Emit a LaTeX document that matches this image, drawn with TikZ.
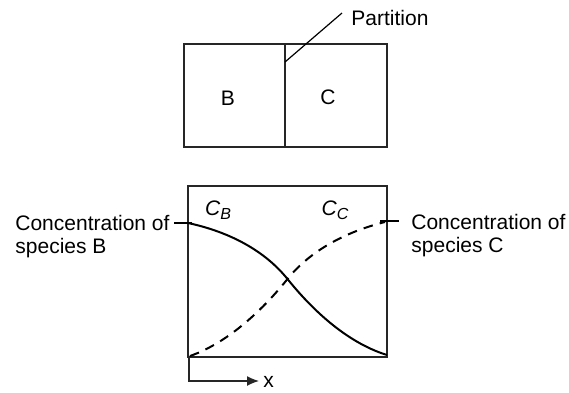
\documentclass[tikz,border=0pt]{standalone}
\usepackage{fontspec}
\setmainfont{Liberation Sans}
\usetikzlibrary{arrows.meta}
\begin{document}
\begin{tikzpicture}[x=0.5pt,y=-0.5pt,
  boxline/.style={line width=0.65pt,black!85},
  curveB/.style={line width=1pt,black},
  curveC/.style={line width=1pt,black,dash pattern=on 4.8pt off 3.6pt},
  lbl/.style={font=\fontsize{10.5}{11.5}\selectfont,inner sep=0pt},
  leader/.style={line width=0.6pt,black}]
\useasboundingbox (0,0) rectangle (569,392);
% top box
\coordinate (tTL) at (184,44);
\coordinate (tBR) at (387,147);
\coordinate (pTop) at (285,44);
\coordinate (pBot) at (285,147);
\draw[boxline] (tTL) rectangle (tBR);
\draw[boxline] (pTop) -- (pBot);
\node[lbl] (B) at (228,98) {B};
\node[lbl] (C) at (328,97) {C};
\coordinate (pLead) at (285,62);
\coordinate (pLeadEnd) at (342,13);
\node[lbl,anchor=base west] (part) at (351,25) {Partition};
\draw[leader] (pLead) -- (pLeadEnd);
% bottom box
\coordinate (bTL) at (188,186);
\coordinate (bBR) at (387,357);
\draw[boxline] (bTL) rectangle (bBR);
% curves
\coordinate (cbS) at (188,223);
\coordinate (cross) at (287.5,279);
\coordinate (cbE) at (387,355);
\coordinate (ccS) at (190,356);
\coordinate (ccE) at (385,222);
\draw[curveB] (cbS) .. controls (230,232) and (265,251) .. (cross)
  .. controls (310,307) and (345,342) .. (cbE);
\draw[curveC] (ccS) .. controls (230,342) and (265,307) .. (cross)
  .. controls (310,251) and (345,232) .. (ccE);
% labels of curves
\node[lbl] (cbl) at (218,210) {\textit{C}\raisebox{-0.35ex}{\fontsize{8}{9}\selectfont\textit{B}}};
\node[lbl] (ccl) at (335,210) {\textit{C}\raisebox{-0.35ex}{\fontsize{8}{9}\selectfont\textit{C}}};
% side labels
\node[lbl,anchor=base west] (lt1) at (15,230) {Concentration of};
\node[lbl,anchor=base west] (lt2) at (15,253) {species B};
\node[lbl,anchor=base west] (rt1) at (411,229) {Concentration of};
\node[lbl,anchor=base west] (rt2) at (411,252) {species C};
\coordinate (lL1) at (174,223);
\coordinate (lL2) at (192,223);
\draw[leader] (lL1) -- (lL2);
\coordinate (rL1) at (380,221);
\coordinate (rL2) at (399,221);
\draw[leader] (rL1) -- (rL2);
% x axis arrow
\coordinate (ax0) at (189,357);
\coordinate (ax1) at (189,381);
\coordinate (ax2) at (259,381);
\draw[boxline,-{Latex[length=6pt,width=5pt]}] (ax0) -- (ax1) -- (ax2);
\node[lbl,anchor=west] (xl) at (263,382) {x};
\end{tikzpicture}
\end{document}
